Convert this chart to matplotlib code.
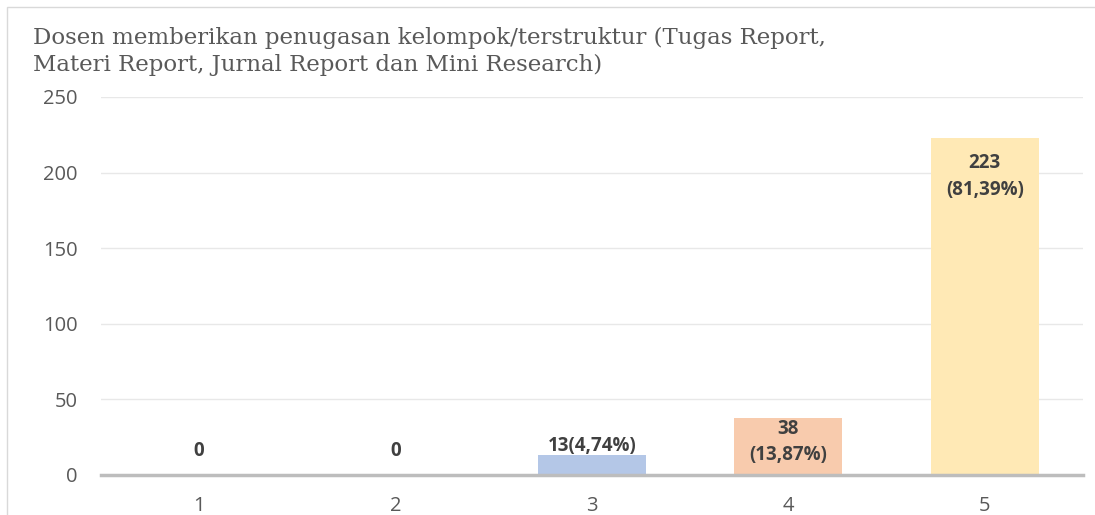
import matplotlib.pyplot as plt
from matplotlib.patches import Rectangle

# data
categories = ["1", "2", "3", "4", "5"]
counts = [0, 0, 13, 38, 223]
labels = ["0", "0", "13(4,74%)", "38\n(13,87%)", "223\n(81,39%)"]
colors = ["#B4C7E7", "#B4C7E7", "#B4C7E7", "#F8CBAD", "#FFE9B5"]
title = "Dosen memberikan penugasan kelompok/terstruktur (Tugas Report,\nMateri Report, Jurnal Report dan Mini Research)"

# label centre offset from bar top, in points
label_offsets = [17, 17, 6.5, -17.6, -27.7]

fig = plt.figure(figsize=(10.95, 5.15), dpi=100)
ax = fig.add_axes([0.0922, 0.0777, 0.8968, 0.734])

x = list(range(len(categories)))
ax.bar(x, counts, width=0.55, color=colors, zorder=2)

ax.set_xlim(-0.5, len(categories) - 0.5)
ax.set_ylim(0, 250)
ax.set_yticks([0, 50, 100, 150, 200, 250])
ax.set_xticks(x)
ax.set_xticklabels(categories)
ax.grid(axis="y", color="#E8E8E8", linewidth=1, zorder=0)
for s in ["top", "right", "left"]:
    ax.spines[s].set_visible(False)
ax.spines["bottom"].set_color("#BDBDBD")
ax.spines["bottom"].set_linewidth(2.5)
ax.spines["bottom"].set_zorder(3)
ax.tick_params(length=0, labelsize=14.5, labelcolor="#595959")
ax.tick_params(axis="x", pad=15)
ax.tick_params(axis="y", pad=17)
for t in ax.get_xticklabels() + ax.get_yticklabels():
    t.set_family("Open Sans")

# data labels
for i, (v, lab) in enumerate(zip(counts, labels)):
    ax.annotate(lab, (i, v), xytext=(0, label_offsets[i]),
                textcoords="offset points", ha="center", va="center",
                fontsize=13.5, fontweight="bold", color="#404040",
                family="Open Sans", linespacing=1.45)

fig.text(33 / 1095, 1 - 27 / 515, title, ha="left", va="top", fontsize=16.5,
         color="#595959", family="DejaVu Serif", linespacing=1.3)

# outer chart border
fig.patches.append(Rectangle((7 / 1095, -0.1), 1.2, 1 - 7 / 515 + 0.1,
                             transform=fig.transFigure, fill=False,
                             edgecolor="#D9D9D9", linewidth=1))

fig.savefig("out.png", dpi=100)
